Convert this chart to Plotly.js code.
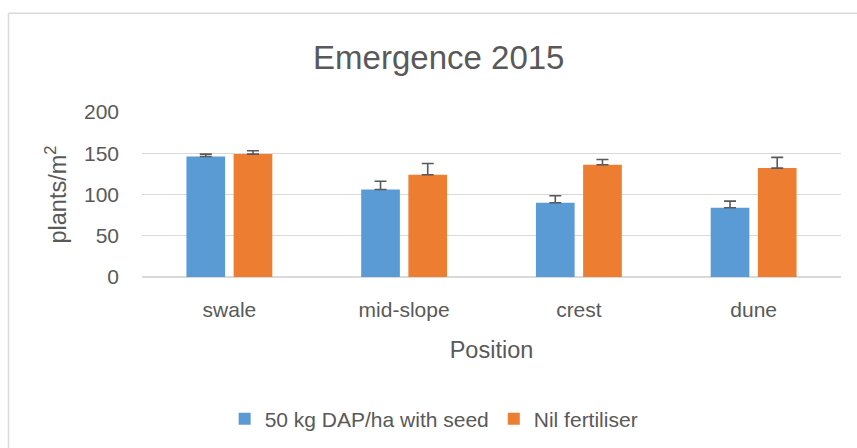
<!DOCTYPE html>
<html>
<head>
<meta charset="utf-8">
<script src="https://cdn.plot.ly/plotly-3.0.1.min.js"></script>
<style>html,body{margin:0;padding:0;background:#fff;overflow:hidden;}#chart{width:857px;height:448px;}</style>
</head>
<body>
<div id="chart"></div>
<script>
var categories = ["swale", "mid-slope", "crest", "dune"];
var dapValues = [146, 106, 90, 84];
var dapErrors = [3, 10, 8.5, 8];
var nilValues = [149, 124, 136, 132];
var nilErrors = [4, 13.5, 6.5, 13];
var noMinus = [0, 0, 0, 0];
var seriesNames = ["50 kg DAP/ha with seed", "Nil fertiliser"];
var yTicks = [0, 50, 100, 150, 200];

var textColor = "#595959";
var fontFamily = "Liberation Sans, Arial, sans-serif";

var traces = [
  {
    type: "bar", name: seriesNames[0], x: categories, y: dapValues,
    marker: {color: "#5B9BD5"},
    error_y: {type: "data", symmetric: false, array: dapErrors, arrayminus: noMinus,
              color: "#595959", thickness: 1.6, width: 6}
  },
  {
    type: "bar", name: seriesNames[1], x: categories, y: nilValues,
    marker: {color: "#ED7D31"},
    error_y: {type: "data", symmetric: false, array: nilErrors, arrayminus: noMinus,
              color: "#595959", thickness: 1.6, width: 6}
  }
];

var layout = {
  width: 857, height: 448,
  margin: {l: 142, r: 16, t: 112, b: 171},
  paper_bgcolor: "#fff", plot_bgcolor: "#fff",
  font: {family: fontFamily, color: textColor, size: 21},
  title: {text: "Emergence 2015", font: {size: 33, color: textColor, family: fontFamily},
          xref: "container", x: 0.512, xanchor: "center",
          yref: "container", y: 1 - 57 / 448, yanchor: "middle"},
  barmode: "group", bargap: 0.46, bargroupgap: 0.18,
  showlegend: true,
  legend: {orientation: "h", xref: "container", x: 0.506, xanchor: "center",
           yref: "container", y: 1 - 419 / 448, yanchor: "middle",
           font: {size: 21, color: textColor}, itemclick: false},
  xaxis: {
    type: "category", showgrid: false, showline: false, zeroline: false, ticks: "",
    tickfont: {size: 21, color: textColor}, ticklabelstandoff: 18,
    title: {text: "Position", font: {size: 23.5, color: textColor}, standoff: 21}
  },
  yaxis: {
    range: [0, 200], tickvals: yTicks, showgrid: true, gridcolor: "#d9d9d9", gridwidth: 1.3,
    zeroline: true, zerolinecolor: "#d9d9d9", zerolinewidth: 1.3, showline: false, ticks: "",
    tickfont: {size: 21, color: textColor}, ticklabelstandoff: 22,
    title: {text: "plants/m<sup>2</sup>", font: {size: 23.5, color: textColor}, standoff: 10}
  },
  shapes: [
    {type: "line", xref: "paper", yref: "paper", x0: -0.191, x1: -0.191, y0: -1.2, y1: 1.598,
     line: {color: "#d9d9d9", width: 1.5}, layer: "below"},
    {type: "line", xref: "paper", yref: "paper", x0: -0.191, x1: 1.2, y0: 1.598, y1: 1.598,
     line: {color: "#d9d9d9", width: 1.5}, layer: "below"}
  ]
};

Plotly.newPlot("chart", traces, layout, {displayModeBar: false, staticPlot: true});
</script>
</body>
</html>
